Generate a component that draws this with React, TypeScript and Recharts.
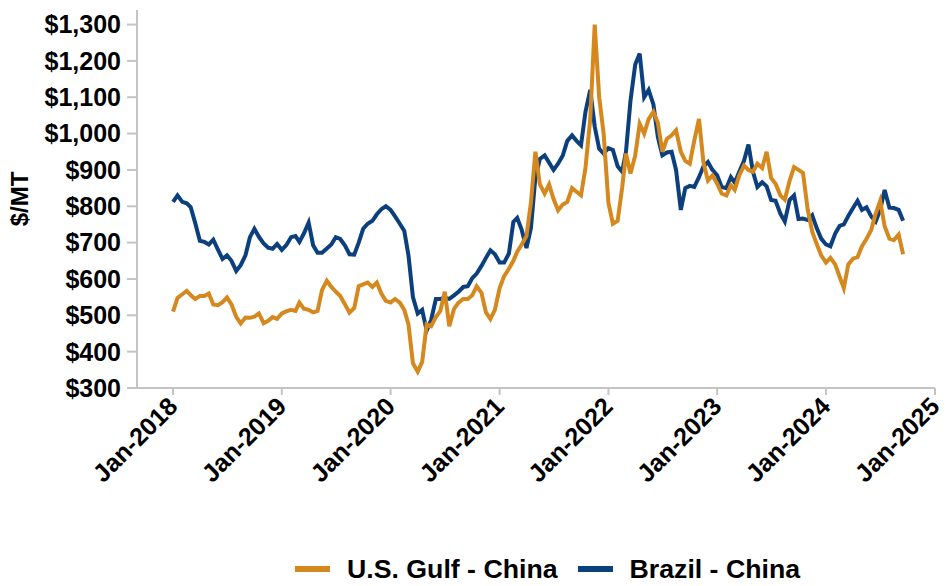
import { LineChart, Line, XAxis, YAxis } from "recharts";

// semi-monthly readings, Jan 2018 .. mid Sep 2024 ($/MT)
const usGulf = [
  510, 548, 558, 567, 556, 545, 553, 553, 560, 530, 528, 536,
  549, 530, 496, 478, 494, 493, 496, 505, 478, 485, 495, 490,
  505, 511, 515, 512, 535, 518, 515, 508, 512, 570, 595, 578,
  565, 553, 530, 507, 520, 580, 585, 590, 578, 590, 560, 540,
  535, 545, 535, 515, 475, 368, 345, 372, 475, 470, 495, 512,
  565, 470, 518, 535, 545, 545, 555, 580, 562, 508, 490, 515,
  575, 608, 628, 650, 675, 695, 718, 810, 950, 860, 835, 860,
  820, 789, 805, 812, 850, 840, 830, 905, 1040, 1300, 1100, 1000,
  810, 752, 760, 850, 945, 890, 940, 1027, 1000, 1040, 1060, 1030,
  950, 985, 995, 1009, 950, 925, 917, 980, 1040, 920, 871, 885,
  862, 835, 830, 858, 845, 885, 912, 900, 895, 917, 905, 950,
  878, 862, 830, 818, 870, 908, 900, 892, 790, 730, 696, 665,
  645, 658, 640, 606, 575, 640, 656, 660, 690, 710, 735, 780,
  815, 745, 711, 707, 722, 668,
];

const brazil = [
  812, 830, 812, 808, 798, 755, 705, 702, 695, 708, 680, 655,
  665, 650, 622, 638, 665, 715, 738, 716, 698, 686, 683, 696,
  680, 693, 715, 718, 702, 725, 755, 693, 672, 672, 684, 695,
  715, 710, 692, 668, 667, 700, 738, 752, 760, 778, 792, 800,
  790, 772, 752, 732, 665, 550, 505, 515, 458, 487, 545, 545,
  548, 545, 555, 565, 578, 580, 602, 615, 636, 658, 679, 668,
  645, 645, 670, 757, 768, 735, 685, 740, 880, 930, 940, 920,
  900, 917, 940, 980, 995, 980, 968, 1060, 1120, 1020, 958, 945,
  960, 955, 910, 895, 950, 1090, 1190, 1220, 1100, 1120, 1080, 990,
  940, 948, 950, 900, 790, 850, 856, 853, 880, 910, 922, 900,
  885, 853, 850, 880, 865, 895, 925, 970, 895, 853, 866, 855,
  817, 815, 780, 758, 817, 830, 765, 766, 762, 775, 740, 711,
  695, 690, 725, 746, 750, 773, 795, 815, 790, 797, 772, 758,
  790, 845, 796, 795, 790, 760,
];

const yTicks = [300, 400, 500, 600, 700, 800, 900, 1000, 1100, 1200, 1300];
const tickYears = [2018, 2019, 2020, 2021, 2022, 2023, 2024, 2025];

const GULF_COLOR = "#D4881E";
const BRAZIL_COLOR = "#0B3F7E";
const FONT = "'Liberation Sans', Arial, sans-serif";

// 1st and 16th of each month
const dates = usGulf.map((_, i) => {
  const year = 2018 + Math.floor(i / 24);
  const month = Math.floor((i % 24) / 2);
  return Date.UTC(year, month, i % 2 === 0 ? 1 : 16);
});

const chartData = dates.map((t, i) => ({ t, gulf: usGulf[i], brazil: brazil[i] }));
const xTicks = tickYears.map((y) => Date.UTC(y, 0, 1));

function DateTick({ x, y, payload }: any) {
  const year = new Date(payload.value).getUTCFullYear();
  return (
    <g transform={`translate(${x + 6},${y + 11})`}>
      <text
        textAnchor="end"
        transform="rotate(-45)"
        fontSize={25}
        fontWeight="bold"
        fontFamily={FONT}
        fill="#000"
      >
        {`Jan-${year}`}
      </text>
    </g>
  );
}

function YLabel() {
  return (
    <text
      x={28}
      y={199}
      transform="rotate(-90 28 199)"
      textAnchor="middle"
      fontSize={24}
      fontWeight="bold"
      fontFamily={FONT}
      fill="#000"
    >
      $/MT
    </text>
  );
}

function LegendItem({ color, label }: { color: string; label: string }) {
  return (
    <div style={{ display: "flex", alignItems: "center", marginRight: 20 }}>
      <span style={{ width: 35, height: 6, background: color, marginRight: 17 }} />
      <span>{label}</span>
    </div>
  );
}

export default function App() {
  return (
    <div style={{ position: "relative", width: 946, height: 586, background: "#fff" }}>
      <style>{"body{margin:0}"}</style>
      <LineChart
        width={946}
        height={586}
        data={chartData}
        margin={{ top: 10, right: 11, left: 0, bottom: 0 }}
      >
        <XAxis
          dataKey="t"
          type="number"
          scale="time"
          domain={[Date.UTC(2017, 8, 2), Date.UTC(2025, 0, 1)]}
          ticks={xTicks}
          interval={0}
          tick={<DateTick />}
          height={198}
          tickSize={7}
          tickMargin={2}
          stroke="#c4c4c4"
          strokeWidth={2}
          allowDataOverflow
        />
        <YAxis
          width={137}
          domain={[300, 1340]}
          ticks={yTicks}
          interval={0}
          tickFormatter={(v: number) => "$" + v.toLocaleString("en-US")}
          tick={{ fontSize: 25, fontWeight: "bold", fill: "#000", fontFamily: FONT }}
          tickSize={10}
          tickMargin={6}
          stroke="#c4c4c4"
          strokeWidth={2}
          label={<YLabel />}
          allowDataOverflow
        />
        <Line
          dataKey="brazil"
          stroke={BRAZIL_COLOR}
          strokeWidth={4}
          dot={false}
          type="linear"
          isAnimationActive={false}
        />
        <Line
          dataKey="gulf"
          stroke={GULF_COLOR}
          strokeWidth={4}
          dot={false}
          type="linear"
          isAnimationActive={false}
        />
      </LineChart>
      <div
        style={{
          position: "absolute",
          top: 556,
          left: 295,
          display: "flex",
          fontFamily: FONT,
          fontWeight: "bold",
          fontSize: 26.7,
          lineHeight: "26px",
          color: "#000",
        }}
      >
        <LegendItem color={GULF_COLOR} label="U.S. Gulf - China" />
        <LegendItem color={BRAZIL_COLOR} label="Brazil - China" />
      </div>
    </div>
  );
}
